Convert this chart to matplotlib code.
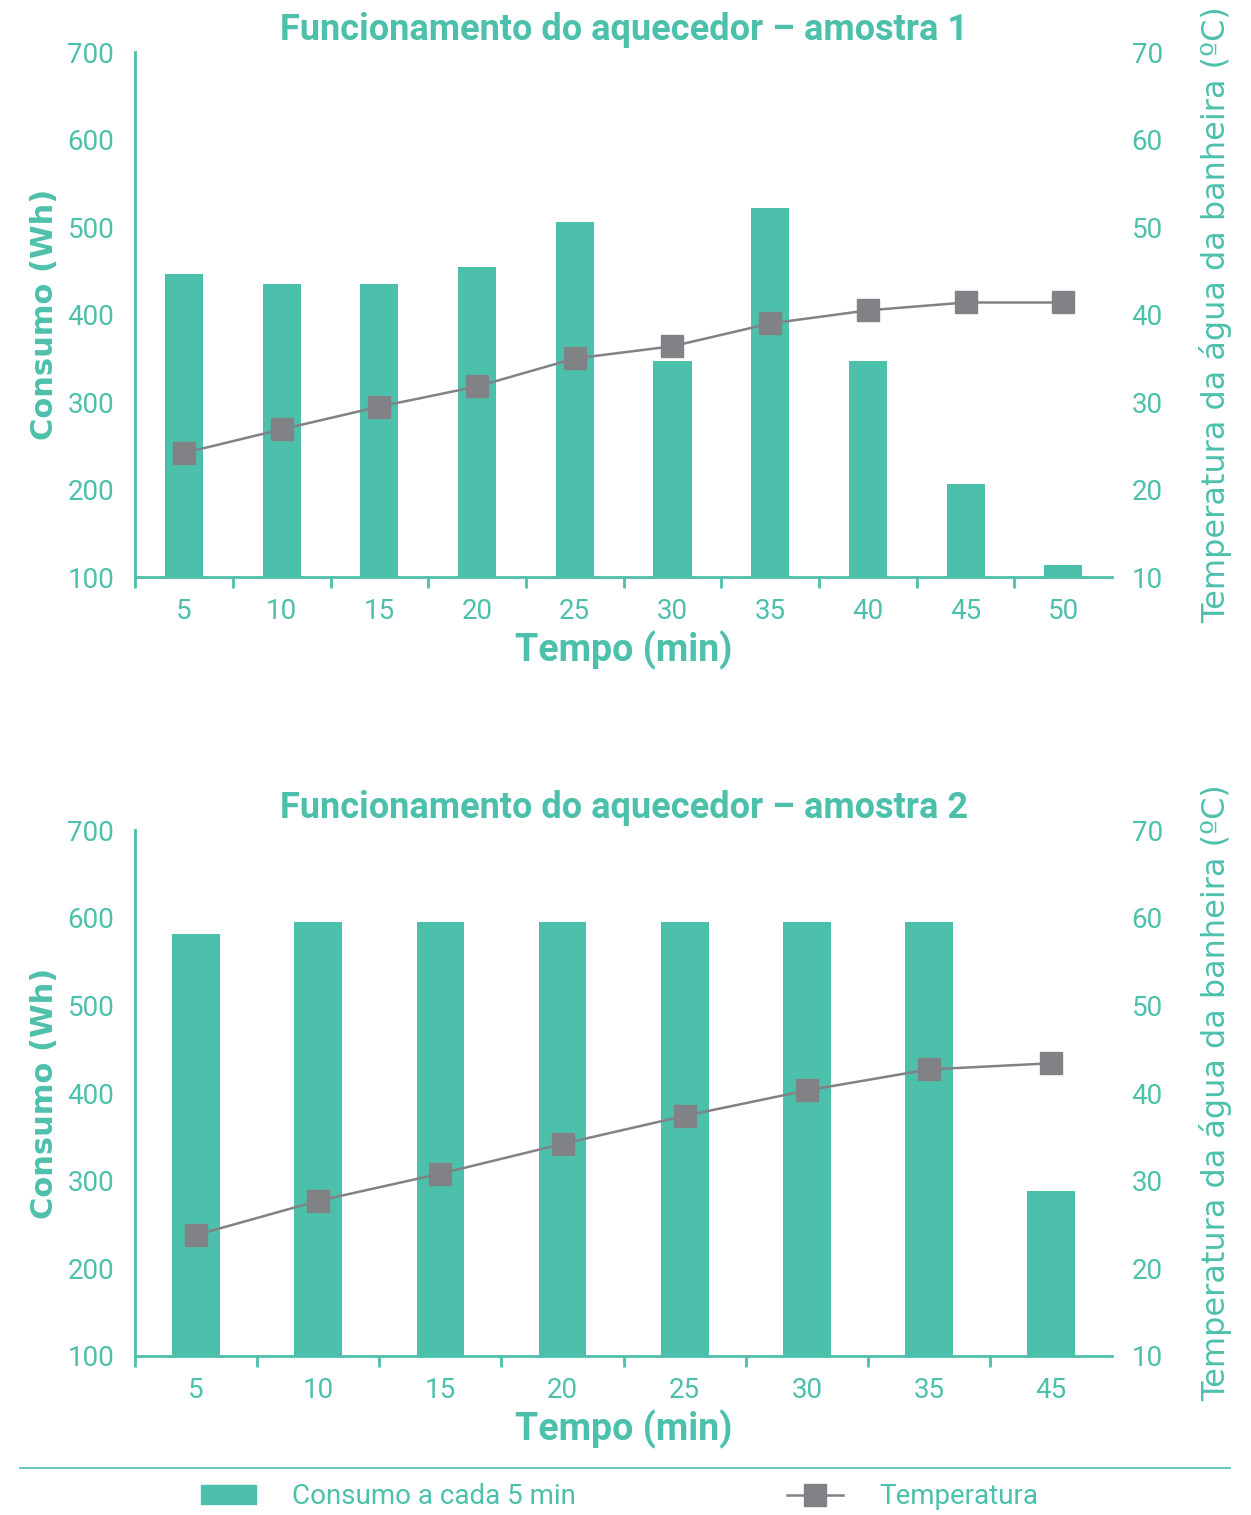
import numpy as np
import matplotlib
matplotlib.use("Agg")
import matplotlib.pyplot as plt
from matplotlib.lines import Line2D
from matplotlib.patches import Patch

# amostra 1
tempo_1 = ["5", "10", "15", "20", "25", "30", "35", "40", "45", "50"]
consumo_1 = [446, 435, 435, 454, 506, 347, 522, 347, 206, 114]
temp_1 = [24.2, 26.9, 29.5, 31.8, 35.0, 36.4, 39.0, 40.5, 41.4, 41.4]

# amostra 2
tempo_2 = ["5", "10", "15", "20", "25", "30", "35", "45"]
consumo_2 = [582, 595, 595, 595, 595, 595, 595, 288]
temp_2 = [23.8, 27.7, 30.8, 34.2, 37.4, 40.3, 42.7, 43.4]

teal = "#4dc0ab"
gray = "#818285"

plt.rcParams["font.family"] = ["Roboto", "DejaVu Sans"]


def plot_sample(ax, labels, consumo, temp, title):
    x = np.arange(len(labels))
    ax.bar(x, consumo, width=0.39, color=teal, zorder=2)
    ax.set_ylim(100, 700)
    ax.set_xlim(-0.5, len(labels) - 0.5)
    ax.set_yticks(range(100, 701, 100))
    ax.set_xticks(x)
    ax.set_xticklabels(labels)
    ax.set_xticks(np.arange(-0.5, len(labels) - 1, 1), minor=True)
    ax.tick_params(axis="x", which="major", length=0, pad=15, labelsize=20, labelcolor=teal)
    ax.tick_params(axis="x", which="minor", length=8, width=2, color=teal)
    ax.tick_params(axis="y", length=0, pad=15, labelsize=20, labelcolor=teal)
    for s in ["top", "right"]:
        ax.spines[s].set_visible(False)
    for s in ["left", "bottom"]:
        ax.spines[s].set_color(teal)
        ax.spines[s].set_linewidth(2)
    ax.set_title(title, fontsize=26, fontweight="bold", color=teal, pad=9)
    ax.set_xlabel("Tempo (min)", fontsize=27, fontweight="bold", color=teal, labelpad=4)
    ax.set_ylabel("Consumo (Wh)", fontsize=22, fontweight="bold", color=teal,
                  family="DejaVu Sans", labelpad=6)

    ax2 = ax.twinx()
    ax2.plot(x, temp, color=gray, lw=1.8, marker="s", markersize=16, zorder=3)
    ax2.set_ylim(10, 70)
    ax2.set_yticks(range(10, 71, 10))
    ax2.tick_params(axis="y", length=0, pad=14, labelsize=20, labelcolor=teal)
    for s in ["top", "right", "left", "bottom"]:
        ax2.spines[s].set_visible(False)
    ax2.set_ylabel("Temperatura da água da banheira (ºC)", fontsize=23, color=teal,
                   family="DejaVu Sans", labelpad=26)
    return ax2


fig = plt.figure(figsize=(12.51, 15.15), dpi=100)
ax_top = fig.add_axes([0.108, 0.619, 0.781, 0.3465])
ax_bot = fig.add_axes([0.108, 0.105, 0.781, 0.347])

plot_sample(ax_top, tempo_1, consumo_1, temp_1, "Funcionamento do aquecedor – amostra 1")
plot_sample(ax_bot, tempo_2, consumo_2, temp_2, "Funcionamento do aquecedor – amostra 2")

# separator + legend
fig.add_artist(Line2D([0.016, 0.983], [0.031, 0.031], color=teal, lw=1.2))
handles = [Patch(color=teal),
           Line2D([], [], color=gray, lw=1.8, marker="s", markersize=16)]
fig.legend(handles, ["Consumo a cada 5 min", "Temperatura"], loc="center",
           bbox_to_anchor=(0.495, 0.012), ncol=2, frameon=False, fontsize=20,
           labelcolor=teal, handlelength=2.0, handletextpad=1.3, columnspacing=7.6)

fig.savefig("out.png", dpi=100)
